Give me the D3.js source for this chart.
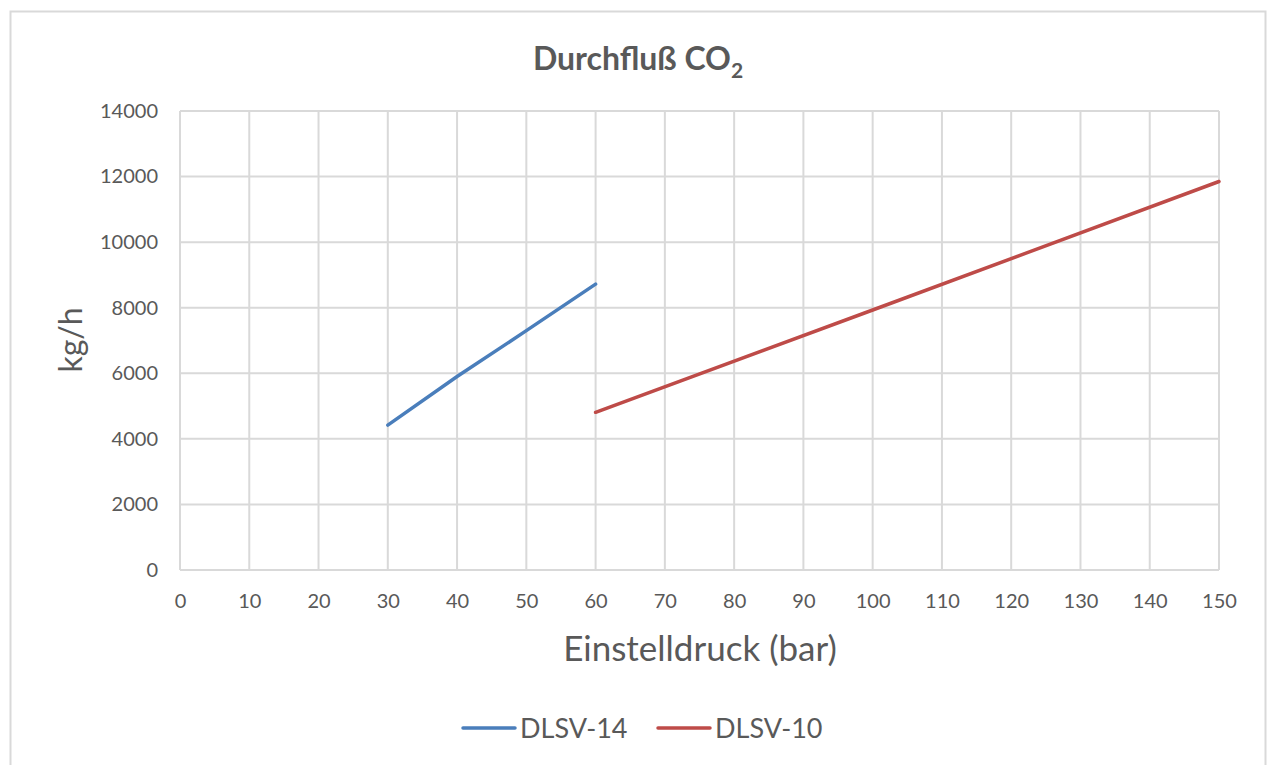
<!DOCTYPE html>
<html>
  <head>
    <meta charset="utf-8" />
    <script src="https://d3js.org/d3.v7.min.js"></script>
    <style>
      body { margin: 0; background: #fff; }
      text { font-family: Lato, "Open Sans", sans-serif; fill: #595959; }
    </style>
  </head>
  <body>
    <svg id="chart" width="1267" height="765"></svg>
    <script>
      // data
      var dlsv14X = [30, 40, 50, 60];
      var dlsv14Y = [4420, 5900, 7300, 8720];
      var dlsv10X = [60, 100, 150];
      var dlsv10Y = [4810, 7930, 11850];
      var xTicks = d3.range(0, 151, 10);
      var yTicks = d3.range(0, 14001, 2000);
      var seriesNames = ["DLSV-14", "DLSV-10"];
      var colors = ["#4a7ebb", "#be4b48"];

      var svg = d3.select("#chart");
      var margin = { left: 180, right: 48, top: 111, bottom: 195 };
      var W = 1267, H = 765;

      svg.append("rect")
        .attr("x", 10.5).attr("y", 11.5)
        .attr("width", 1255).attr("height", 770)
        .attr("fill", "#fff").attr("stroke", "#d9d9d9").attr("stroke-width", 2);

      var x = d3.scaleLinear().domain([0, 150]).range([margin.left, W - margin.right]);
      var y = d3.scaleLinear().domain([0, 14000]).range([H - margin.bottom, margin.top]);

      // grid
      svg.append("g").selectAll("line").data(xTicks).enter().append("line")
        .attr("x1", d => x(d)).attr("x2", d => x(d))
        .attr("y1", y(0)).attr("y2", y(14000))
        .attr("stroke", "#d9d9d9").attr("stroke-width", 2);
      svg.append("g").selectAll("line").data(yTicks).enter().append("line")
        .attr("x1", x(0)).attr("x2", x(150))
        .attr("y1", d => y(d)).attr("y2", d => y(d))
        .attr("stroke", "#d9d9d9").attr("stroke-width", 2);

      // axes labels
      var xAxis = svg.append("g")
        .attr("transform", "translate(0," + y(0) + ")")
        .call(d3.axisBottom(x).tickValues(xTicks).tickFormat(d3.format("d")).tickSize(0).tickPadding(24));
      xAxis.select(".domain").remove();
      xAxis.selectAll("text").style("font-size", "20px").attr("fill", "#595959");

      var yAxis = svg.append("g")
        .attr("transform", "translate(" + x(0) + ",0)")
        .call(d3.axisLeft(y).tickValues(yTicks).tickFormat(d3.format("d")).tickSize(0).tickPadding(22));
      yAxis.select(".domain").remove();
      yAxis.selectAll("text").style("font-size", "20px").attr("fill", "#595959");

      // lines
      var line = d3.line().x(d => x(d[0])).y(d => y(d[1]));
      var series = [
        d3.zip(dlsv14X, dlsv14Y),
        d3.zip(dlsv10X, dlsv10Y)
      ];
      svg.append("g").selectAll("path").data(series).enter().append("path")
        .attr("d", line)
        .attr("fill", "none")
        .attr("stroke", (d, i) => colors[i])
        .attr("stroke-width", 3.5)
        .attr("stroke-linecap", "round");

      // title
      var title = svg.append("text")
        .attr("x", 638).attr("y", 70)
        .attr("text-anchor", "middle")
        .style("font-size", "32px").style("font-weight", "bold");
      title.append("tspan").text("Durchfluß CO");
      title.append("tspan").attr("dy", 8).style("font-size", "21px").text("2");

      // axis titles
      svg.append("text")
        .attr("x", 700).attr("y", 661)
        .attr("text-anchor", "middle")
        .style("font-size", "35px")
        .text("Einstelldruck (bar)");
      svg.append("text")
        .attr("transform", "translate(82,340) rotate(-90)")
        .attr("text-anchor", "middle")
        .style("font-size", "32px")
        .text("kg/h");

      // legend
      var legX = [463, 658];
      seriesNames.forEach(function (name, i) {
        svg.append("line")
          .attr("x1", legX[i]).attr("x2", legX[i] + 52)
          .attr("y1", 728).attr("y2", 728)
          .attr("stroke", colors[i]).attr("stroke-width", 3.5)
          .attr("stroke-linecap", "round");
        svg.append("text")
          .attr("x", legX[i] + 57).attr("y", 738)
          .style("font-size", "27px")
          .text(name);
      });
    </script>
  </body>
</html>
